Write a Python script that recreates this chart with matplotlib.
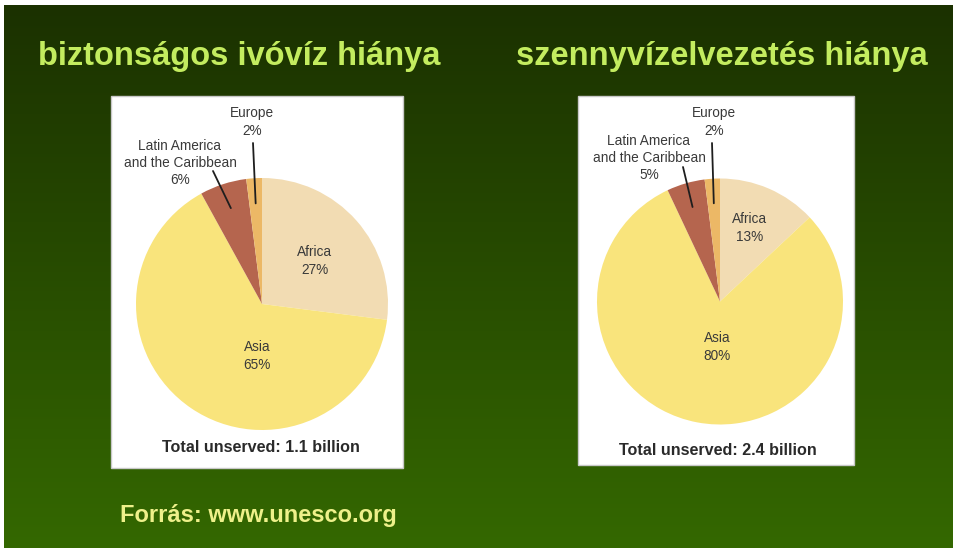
import numpy as np
import matplotlib
matplotlib.use("Agg")
import matplotlib.pyplot as plt
from matplotlib.patches import Rectangle

# ---------------- data ----------------
regions = ["Africa", "Asia", "Latin America\nand the Caribbean", "Europe"]
water_pct = [27, 65, 6, 2]
sanit_pct = [13, 80, 5, 2]
slice_colors = ["#f2dcb3", "#f9e47c", "#b5654e", "#ecb866"]
titles = ["biztonságos ivóvíz hiánya", "szennyvízelvezetés hiánya"]
totals = ["Total unserved: 1.1 billion", "Total unserved: 2.4 billion"]
source = "Forrás: www.unesco.org"

# ---------------- layout (pixels) ----------------
W, H = 954, 548
fig = plt.figure(figsize=(W / 100, H / 100), dpi=100, facecolor="white")
bg = fig.add_axes([0, 0, 1, 1])
bg.axis("off")

top = np.array([0x1b, 0x31, 0x00]) / 255
bot = np.array([0x34, 0x68, 0x00]) / 255
t = np.linspace(0, 1, 256)[:, None]
grad = top + (bot - top) * t
img = np.repeat(grad[:, None, :], 2, axis=1)
bg.imshow(img, extent=[4, W, H, 5], aspect="auto", interpolation="bilinear")
bg.set_xlim(0, W)
bg.set_ylim(H, 0)

boxes = [(111, 96, 292, 372), (578, 96, 276, 369)]
for (x, y, w, h) in boxes:
    bg.add_patch(Rectangle((x, y), w, h, facecolor="white", edgecolor="#c8c8c8", lw=1.0, zorder=2))

font = ["Liberation Sans", "DejaVu Sans"]

pies = [
    dict(vals=water_pct, c=(262, 304), r=126, total_xy=(261, 452),
         label_xy={"Africa": (315, 261), "Asia": (257, 356),
                   "Latin America\nand the Caribbean": (180, 163), "Europe": (252, 122)},
         line_start={"Latin America\nand the Caribbean": (213, 171), "Europe": (253, 143)}),
    dict(vals=sanit_pct, c=(720, 301.5), r=123, total_xy=(718, 455),
         label_xy={"Africa": (750, 228), "Asia": (717, 347),
                   "Latin America\nand the Caribbean": (649, 158), "Europe": (714, 122)},
         line_start={"Latin America\nand the Caribbean": (683, 167), "Europe": (712, 143)}),
]

pie_axes = []
for p in pies:
    cx, cy = p["c"]
    r = p["r"]
    ax = fig.add_axes([(cx - r) / W, 1 - (cy + r) / H, 2 * r / W, 2 * r / H])
    wedges, _ = ax.pie(p["vals"], colors=slice_colors, startangle=90, counterclock=False,
                       wedgeprops=dict(linewidth=0))
    ax.set_xlim(-1, 1)
    ax.set_ylim(-1, 1)
    ax.patch.set_alpha(0)
    pie_axes.append((ax, wedges))

# overlay for texts and leader lines
ov = fig.add_axes([0, 0, 1, 1], zorder=10)
ov.set_xlim(0, W)
ov.set_ylim(H, 0)
ov.axis("off")
ov.patch.set_alpha(0)

title_x = [38, 516]
for tx, tt in zip(title_x, titles):
    ov.text(tx, 65, tt, fontsize=23.5, fontweight="bold", color="#c3ec5f",
            family=font, ha="left", va="baseline")

ov.text(120, 522, source, fontsize=17, fontweight="bold", color="#eef08a",
        family=font, ha="left", va="baseline")

for i, (p, (ax, wedges)) in enumerate(zip(pies, pie_axes)):
    cx, cy = p["c"]
    r = p["r"]
    for reg, v, wdg in zip(regions, p["vals"], wedges):
        lx, ly = p["label_xy"][reg]
        ov.text(lx, ly, f"{reg}\n{v}%", fontsize=9.8, color="#3a3a3a", family=font,
                ha="center", va="center", linespacing=1.3)
        if reg in p["line_start"]:
            ang = np.deg2rad((wdg.theta1 + wdg.theta2) / 2)
            tip = (0.8 * np.cos(ang), 0.8 * np.sin(ang))
            ov.annotate("", xy=tip, xycoords=ax.transData,
                        xytext=p["line_start"][reg], textcoords="data",
                        arrowprops=dict(arrowstyle="-", color="#1e1e1e", lw=1.3,
                                        shrinkA=0, shrinkB=0),
                        annotation_clip=False)
    tx, ty = p["total_xy"]
    ov.text(tx, ty, totals[i], fontsize=11.6, fontweight="bold", color="#2a2a2a",
            family=font, ha="center", va="baseline")

fig.savefig("out.png", dpi=100, facecolor="white")
